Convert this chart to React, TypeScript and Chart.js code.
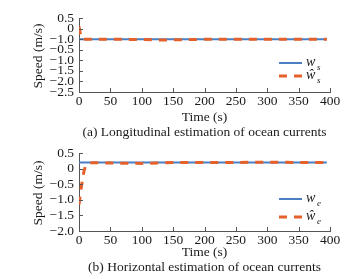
import React, { useEffect, useRef } from "react";
import { Chart, registerables } from "chart.js";

Chart.register(...registerables);

// ---------- data ----------
const xTicks = [0, 50, 100, 150, 200, 250, 300, 350, 400];

// Panel (a): longitudinal (tick labels exactly as printed in the source figure)
const topYTicks = [0.5, 0, -0.5, -1.0, -1.5, -2.0, -2.5, -3.0];
const topYLabels = ["0.5", "0", "\u22121.0", "\u22120.5", "\u22121.0", "\u22121.5", "\u22122.0", "\u22122.5"];
const topTime = [0, 395];
const topTrue = [-0.5, -0.5];
const topEstTime = [0, 1, 2, 3, 4, 6, 10, 20, 50, 100, 130, 160, 200, 250, 300, 350, 395];
const topEst = [0.1, -0.05, -0.25, -0.4, -0.48, -0.5, -0.51, -0.5, -0.5, -0.52, -0.54, -0.53, -0.51, -0.5, -0.5, -0.5, -0.5];

// Panel (b): horizontal
const botYTicks = [0.5, 0, -0.5, -1.0, -1.5, -2.0];
const botYLabels = ["0.5", "0", "\u22120.5", "\u22121.0", "\u22121.5", "\u22122.0"];
const botTime = [0, 395];
const botTrue = [0.2, 0.2];
const botEstTime = [0, 2, 4, 6, 8, 10, 13, 16, 20, 50, 100, 150, 200, 250, 300, 350, 390];
const botEst = [-1.15, -0.85, -0.55, -0.3, -0.08, 0.06, 0.15, 0.18, 0.19, 0.18, 0.17, 0.2, 0.2, 0.2, 0.21, 0.2, 0.2];

const BLUE = "#4a7fc3";
const ORANGE = "#e6612a";
const AXIS = "#555555";
const TEXT = "#1a1a1a";
const FONT = "Liberation Serif";

type PanelProps = {
  height: number;
  padTop: number;
  xAxisHeight: number;
  yMin: number;
  yMax: number;
  yTicks: number[];
  yLabels: string[];
  trueT: number[];
  trueV: number[];
  estT: number[];
  estV: number[];
  sub: string;
  caption: string;
  timeY: number;
  captionY: number;
  legendY1: number;
  legendY2: number;
};

function Panel(p: PanelProps) {
  const ref = useRef<HTMLCanvasElement | null>(null);
  useEffect(() => {
    if (!ref.current) return;
    const overlay = {
      id: "overlay",
      afterDraw(chart: any) {
        const ctx = chart.ctx as CanvasRenderingContext2D;
        const area = chart.chartArea;
        const xs = chart.scales.x;
        const ys = chart.scales.y;
        ctx.save();
        // inward ticks
        ctx.strokeStyle = AXIS;
        ctx.lineWidth = 1;
        ctx.beginPath();
        for (const v of p.yTicks) {
          const y = Math.round(ys.getPixelForValue(v)) + 0.5;
          ctx.moveTo(area.left, y);
          ctx.lineTo(area.left + 4, y);
        }
        for (const v of xTicks) {
          const x = Math.round(xs.getPixelForValue(v)) + 0.5;
          ctx.moveTo(x, area.bottom);
          ctx.lineTo(x, area.bottom - 4);
        }
        ctx.stroke();

        ctx.fillStyle = TEXT;
        ctx.textAlign = "center";
        ctx.textBaseline = "middle";
        ctx.font = `13.5px "${FONT}"`;
        const cx = (area.left + area.right) / 2;
        ctx.fillText("Time (s)", cx, p.timeY);
        ctx.fillText(p.caption, cx, p.captionY);

        // y title
        ctx.save();
        ctx.translate(38, (area.top + area.bottom) / 2 + 1);
        ctx.rotate(-Math.PI / 2);
        ctx.fillText("Speed (m/s)", 0, 0);
        ctx.restore();

        // legend
        const lx1 = 279;
        const lx2 = 302;
        ctx.lineWidth = 2;
        ctx.strokeStyle = BLUE;
        ctx.beginPath();
        ctx.moveTo(lx1, p.legendY1);
        ctx.lineTo(lx2, p.legendY1);
        ctx.stroke();
        ctx.lineWidth = 3;
        ctx.strokeStyle = ORANGE;
        ctx.setLineDash([8, 7]);
        ctx.beginPath();
        ctx.moveTo(lx1, p.legendY2);
        ctx.lineTo(lx2 + 1, p.legendY2);
        ctx.stroke();
        ctx.setLineDash([]);

        ctx.textAlign = "left";
        ctx.font = `italic 14px "${FONT}"`;
        ctx.fillText("w", 306, p.legendY1 - 1);
        ctx.fillText("\u0175", 306, p.legendY2 - 1);
        ctx.font = `italic 9px "${FONT}"`;
        ctx.fillText(p.sub, 317, p.legendY1 + 5);
        ctx.fillText(p.sub, 317, p.legendY2 + 5);
        ctx.restore();
      },
    };

    const chart = new Chart(ref.current, {
      type: "line",
      data: {
        datasets: [
          {
            label: "est",
            data: p.estT.map((t, i) => ({ x: t, y: p.estV[i] })),
            borderColor: ORANGE,
            borderWidth: 3,
            borderDash: [8, 7],
            pointRadius: 0,
            tension: 0,
            order: 0,
          },
          {
            label: "true",
            data: p.trueT.map((t, i) => ({ x: t, y: p.trueV[i] })),
            borderColor: BLUE,
            borderWidth: 2,
            pointRadius: 0,
            tension: 0,
            order: 1,
          },
        ],
      },
      options: {
        animation: false,
        responsive: false,
        maintainAspectRatio: false,
        layout: { padding: { top: p.padTop, left: 0, right: 30, bottom: 0 } },
        plugins: { legend: { display: false }, tooltip: { enabled: false }, title: { display: false } },
        scales: {
          x: {
            type: "linear",
            min: 0,
            max: 400,
            afterBuildTicks: (s: any) => {
              s.ticks = xTicks.map((v) => ({ value: v }));
            },
            afterFit: (s: any) => {
              s.height = p.xAxisHeight;
            },
            ticks: {
              padding: 1,
              color: TEXT,
              font: { family: FONT, size: 13.5 },
              maxRotation: 0,
              autoSkip: false,
              callback: (v: any) => String(v),
            },
            grid: { display: false, drawTicks: false },
            border: { display: true, color: AXIS, width: 1 },
          },
          y: {
            type: "linear",
            min: p.yMin,
            max: p.yMax,
            afterBuildTicks: (s: any) => {
              s.ticks = p.yTicks.map((v) => ({ value: v }));
            },
            afterFit: (s: any) => {
              s.width = 79;
            },
            ticks: {
              padding: 5,
              color: TEXT,
              font: { family: FONT, size: 13.5 },
              autoSkip: false,
              callback: (v: any) => {
                const idx = p.yTicks.findIndex((t) => Math.abs(t - v) < 1e-9);
                return idx >= 0 ? p.yLabels[idx] : "";
              },
            },
            grid: { display: false, drawTicks: false },
            border: { display: true, color: AXIS, width: 1 },
          },
        },
      },
      plugins: [overlay],
    } as any);
    return () => chart.destroy();
  }, []);
  return (
    <div style={{ width: 360, height: p.height }}>
      <canvas ref={ref} width={360} height={p.height} style={{ display: "block" }} />
    </div>
  );
}

export default function App() {
  useEffect(() => {
    document.body.style.margin = "0";
    document.body.style.background = "#ffffff";
  }, []);
  return (
    <div style={{ width: 360, height: 279, background: "#fff", overflow: "hidden" }}>
      <Panel
        height={140}
        padTop={18}
        xAxisHeight={48}
        yMin={-3.0}
        yMax={0.5}
        yTicks={topYTicks}
        yLabels={topYLabels}
        trueT={topTime}
        trueV={topTrue}
        estT={topEstTime}
        estV={topEst}
        sub="s"
        caption="(a) Longitudinal estimation of ocean currents"
        timeY={117}
        captionY={132}
        legendY1={63}
        legendY2={76}
      />
      <Panel
        height={139}
        padTop={10}
        xAxisHeight={48}
        yMin={-2.0}
        yMax={0.5}
        yTicks={botYTicks}
        yLabels={botYLabels}
        trueT={botTime}
        trueV={botTrue}
        estT={botEstTime}
        estV={botEst}
        sub="e"
        caption="(b) Horizontal estimation of ocean currents"
        timeY={112}
        captionY={127}
        legendY1={59}
        legendY2={77}
      />
    </div>
  );
}
